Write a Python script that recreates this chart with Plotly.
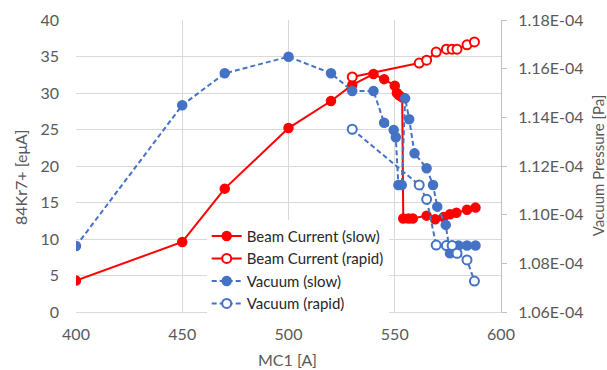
import plotly.graph_objects as go

# ---- data ----
beam_slow_x = [400, 450, 470, 500, 520, 530, 540, 545, 550, 551, 552, 553.5, 554, 556.5, 558.5, 565, 569, 573, 576, 579, 584, 588]
beam_slow_y = [4.3, 9.6, 16.9, 25.2, 28.9, 31.1, 32.6, 31.9, 31.0, 30.0, 29.7, 29.4, 12.8, 12.8, 12.8, 13.2, 12.7, 13.0, 13.4, 13.6, 14.0, 14.3]

beam_rapid_x = [530, 561.5, 565, 569.5, 574.3, 577, 579.3, 584, 587.5]
beam_rapid_y = [32.2, 34.1, 34.5, 35.6, 36.0, 36.0, 36.0, 36.6, 37.0]

vac_slow_x = [400, 450, 470, 500, 520, 530, 540, 545, 549.5, 550.5, 551.7, 553.3, 554.9, 556.8, 559.3, 565, 568, 570, 574, 576, 580, 584, 588]
vac_slow_y = [1.0871e-4, 1.1450e-4, 1.1581e-4, 1.1649e-4, 1.1581e-4, 1.1508e-4, 1.1508e-4, 1.1378e-4,
              1.1348e-4, 1.1318e-4, 1.1122e-4, 1.1122e-4, 1.1478e-4, 1.1392e-4, 1.1252e-4, 1.1191e-4,
              1.1122e-4, 1.1033e-4, 1.0958e-4, 1.0841e-4, 1.0873e-4, 1.0873e-4, 1.0873e-4]

vac_rapid_x = [530, 561.5, 565, 569.5, 574.3, 577, 579.3, 584, 587.5]
vac_rapid_y = [1.1351e-4, 1.1122e-4, 1.1063e-4, 1.0875e-4, 1.0873e-4, 1.0873e-4, 1.0841e-4, 1.0814e-4, 1.0727e-4]

x_ticks = [400, 450, 500, 550, 600]
y_left_ticks = [0, 5, 10, 15, 20, 25, 30, 35, 40]
y_right_vals = [1.06e-4, 1.08e-4, 1.10e-4, 1.12e-4, 1.14e-4, 1.16e-4, 1.18e-4]
y_right_text = ["1.06E-04", "1.08E-04", "1.10E-04", "1.12E-04", "1.14E-04", "1.16E-04", "1.18E-04"]

RED = "#FF0000"
BLUE = "#4472C4"
TXT = "#595959"
FONT = "Lato"

# plot area in pixels
PL, PR, PT, PB = 76, 500.7, 20, 312
PW, PH = PR - PL, PB - PT

fig = go.Figure()
fig.add_trace(go.Scatter(x=beam_slow_x, y=beam_slow_y, name="Beam Current (slow)", mode="lines+markers",
                         line=dict(color=RED, width=2), marker=dict(color=RED, size=9, line=dict(color=RED, width=1.5))))
fig.add_trace(go.Scatter(x=beam_rapid_x, y=beam_rapid_y, name="Beam Current (rapid)", mode="lines+markers",
                         line=dict(color=RED, width=2), marker=dict(color="white", size=9, line=dict(color=RED, width=2))))
fig.add_trace(go.Scatter(x=vac_slow_x, y=vac_slow_y, name="Vacuum (slow)", mode="lines+markers", yaxis="y2",
                         line=dict(color=BLUE, width=2, dash="5px,3px"), marker=dict(color=BLUE, size=9, line=dict(color=BLUE, width=1.5))))
fig.add_trace(go.Scatter(x=vac_rapid_x, y=vac_rapid_y, name="Vacuum (rapid)", mode="lines+markers", yaxis="y2",
                         line=dict(color=BLUE, width=2, dash="5px,3px"), marker=dict(color="white", size=9, line=dict(color=BLUE, width=2))))

fig.update_layout(
    width=607, height=370,
    margin=dict(l=PL, r=607 - PR, t=PT, b=370 - PB, autoexpand=False),
    paper_bgcolor="white", plot_bgcolor="white",
    font=dict(family=FONT, size=16, color=TXT),
    showlegend=True,
    legend=dict(x=0.3075, y=0.316, xanchor="left", yanchor="top", bgcolor="white",
                font=dict(family=FONT, size=15, color="#262626"), tracegroupgap=0, itemwidth=30),
    xaxis=dict(range=[400, 600], tickvals=x_ticks, showgrid=True, gridcolor="#D9D9D9", gridwidth=1,
               showline=True, linecolor="#D9D9D9", zeroline=False, ticks="", ticklabelstandoff=8, automargin=False),
    yaxis=dict(range=[0, 40], tickvals=y_left_ticks, showgrid=True, gridcolor="#D9D9D9", gridwidth=1,
               showline=False, zeroline=False, ticks="", ticklabelstandoff=16, automargin=False),
    yaxis2=dict(range=[1.06e-4, 1.18e-4], tickvals=y_right_vals, ticktext=y_right_text, overlaying="y", side="right",
                showgrid=False, showline=True, linecolor="#BFBFBF", zeroline=False, ticks="outside", ticklen=5,
                tickcolor="#BFBFBF", ticklabelstandoff=8, automargin=False),
    annotations=[
        dict(text="84Kr7+ [eμA]", xref="paper", yref="paper", x=(20 - PL) / PW, y=(PB - 177) / PH,
             textangle=-90, showarrow=False, xanchor="center", yanchor="middle", font=dict(size=16, color=TXT)),
        dict(text="Vacuum Pressure [Pa]", xref="paper", yref="paper", x=(598 - PL) / PW, y=(PB - 165) / PH,
             textangle=-90, showarrow=False, xanchor="center", yanchor="middle", font=dict(size=15, color=TXT)),
        dict(text="MC1 [A]", xref="paper", yref="paper", x=(287 - PL) / PW, y=(PB - 359) / PH,
             showarrow=False, xanchor="center", yanchor="middle", font=dict(size=16, color=TXT)),
    ],
)

fig.write_html("out.html", config={"displayModeBar": False},
               post_script="document.body.style.margin='0';document.body.style.overflow='hidden';")
